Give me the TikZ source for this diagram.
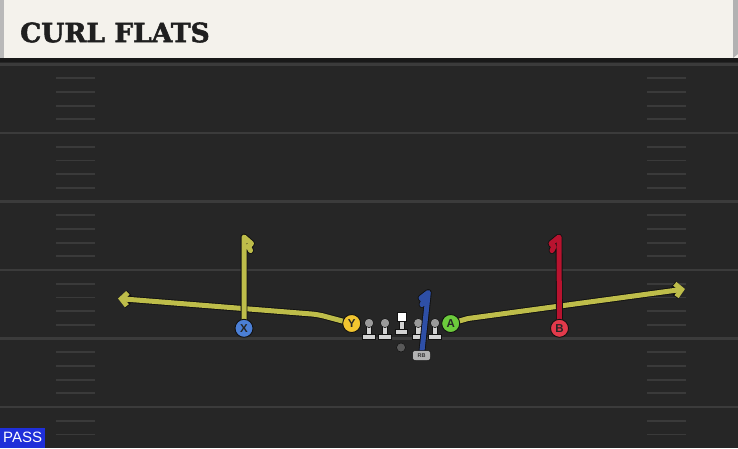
\documentclass[tikz,border=0pt]{standalone}
\usepackage{fontspec}
\newfontfamily\titlefont[BoldFeatures={FakeBold=2}]{DejaVu Serif}
\newfontfamily\labelfont{Liberation Sans}
\usetikzlibrary{arrows.meta}
\definecolor{cream}{HTML}{F4F2EC}
\definecolor{fieldbg}{HTML}{262626}
\definecolor{yardc}{HTML}{3B3B3B}
\definecolor{hashc}{HTML}{3A3A3A}
\definecolor{ryellow}{HTML}{BEBD4A}
\definecolor{rred}{HTML}{B8132F}
\definecolor{rblue}{HTML}{2E4FA6}
\definecolor{pblue}{HTML}{4B7FD6}
\definecolor{pyellow}{HTML}{F2C530}
\definecolor{pgreen}{HTML}{6CCB3C}
\definecolor{pred}{HTML}{E23A4B}
\definecolor{passblue}{HTML}{1F2FD9}
\definecolor{outl}{HTML}{111111}
\definecolor{lmhead}{HTML}{9A9A9A}
\definecolor{lmbody}{HTML}{D2D2D2}
\pgfdeclarelayer{field}
\pgfdeclarelayer{line}
\pgfdeclarelayer{routes}
\pgfsetlayers{field,line,routes,main}
\newcommand\myroute[2]{%
  \draw[route,#1,routeout] #2;
  \draw[route,#1] #2;}
\tikzset{
  yard/.style={draw=yardc, line width=2.4pt},
  hash/.style={draw=hashc, line width=1.8pt},
  route/.style={line width=5pt, line cap=round, line join=round},
  routeout/.style={line width=6.8pt, draw=outl},
  tip/.style={-{Straight Barb[length=6pt,width=13pt]}},
  player/.style={circle, draw=outl, line width=0.9pt, minimum size=18pt, inner sep=0pt,
    font=\labelfont\bfseries\fontsize{11.5}{11.5}\selectfont, text=black!85},
  lineman/.pic={
    \fill[draw=outl, line width=0.5pt, fill=lmbody] (-2.6,1.5) rectangle (2.6,12);
    \fill[draw=outl, line width=0.5pt, fill=lmbody] (-6.3,11.5) rectangle (6.3,16.5);
    \fill[draw=outl, line width=0.5pt, fill=lmhead] (0,0) circle (4.6);
  }
}
\begin{document}
\begin{tikzpicture}[x=1pt,y=-1pt]
\useasboundingbox (0,0) rectangle (738,448);
% players and labels
\node[player, fill=pblue] (X) at (244,328.3) {X};
\node[player, fill=pyellow] (Y) at (351.7,323.5) {Y};
\node[player, fill=pgreen] (A) at (450.7,323.5) {A};
\node[player, fill=pred] (B) at (559.5,328.3) {B};
\node[draw=outl, line width=0.5pt, fill=lmbody!85!black, rounded corners=2.5pt, minimum width=18pt, minimum height=10pt, inner sep=0pt,
  font=\labelfont\bfseries\fontsize{5.5}{5.5}\selectfont, text=black!80] (RB) at (421.5,355.5) {RB};
\node[circle, fill=gray!70!black, draw=outl, line width=0.5pt, minimum size=9pt, inner sep=0pt] (QB) at (401,347.5) {};
\node[anchor=west, inner sep=0pt, text=black!88, font=\titlefont\bfseries\fontsize{26.5}{26.5}\selectfont] (title) at (20,32.5) {CURL FLATS};
\node[anchor=south west, fill=passblue, text=white, minimum width=45pt, minimum height=20pt, inner sep=0pt,
  font=\labelfont\fontsize{15}{15}\selectfont] (pass) at (0,448) {PASS};
\begin{pgfonlayer}{field}
  \fill[fieldbg] (0,58) rectangle (738,448);
  \fill[cream] (0,0) rectangle (738,58);
  \fill[gray!55] (0,0) rectangle (4,58);
  \fill[gray!60] (733,0) -- (738,0) -- (738,54) -- (733,58) -- cycle;
  \fill[black!90] (0,58) rectangle (738,62);
  \foreach \y in {64.5,133,201.5,270,338.5,407} {\draw[yard] (0,\y) -- (738,\y);}
  \foreach \y in {78.2,91.9,105.6,119.3,146.7,160.4,174.1,187.8,215.2,228.9,242.6,256.3,283.7,297.4,311.1,324.8,352.2,365.9,379.6,393.3,420.7,434.4} {
    \draw[hash] (56,\y) -- (95,\y);
    \draw[hash] (647,\y) -- (686,\y);
  }
\end{pgfonlayer}
\begin{pgfonlayer}{line}
  \foreach \x in {369,385,418.3,435} {\pic at (\x,323) {lineman};}
  \fill[draw=outl, line width=0.5pt, fill=lmbody] (398.8,320) rectangle (404.2,330);
  \fill[draw=outl, line width=0.5pt, fill=lmbody] (395.3,329) rectangle (407.7,334);
  \fill[draw=outl, line width=0.5pt, fill=white] (397.2,312.3) rectangle (406.3,321.4);
\end{pgfonlayer}
\begin{pgfonlayer}{routes}
  \myroute{draw=ryellow, tip, rounded corners=6pt}{(Y.center) -- (318,314.5) -- (118,298.5)}
  \myroute{draw=ryellow, tip}{(A.center) -- (468,318.5) -- (685,289)}
  \myroute{draw=ryellow}{(X.center) -- (244,237) -- (251.5,243.5) -- (248.5,246.5) -- (250.5,250.5)}
  \myroute{draw=rred}{(B.center) -- (559,237) -- (551,243.5) -- (554,246.5) -- (552,250.5)}
  \myroute{draw=rblue}{(RB.center) -- (428.3,292.5) -- (421,298) -- (424,300.5) -- (422,304.5)}
\end{pgfonlayer}
\end{tikzpicture}
\end{document}
